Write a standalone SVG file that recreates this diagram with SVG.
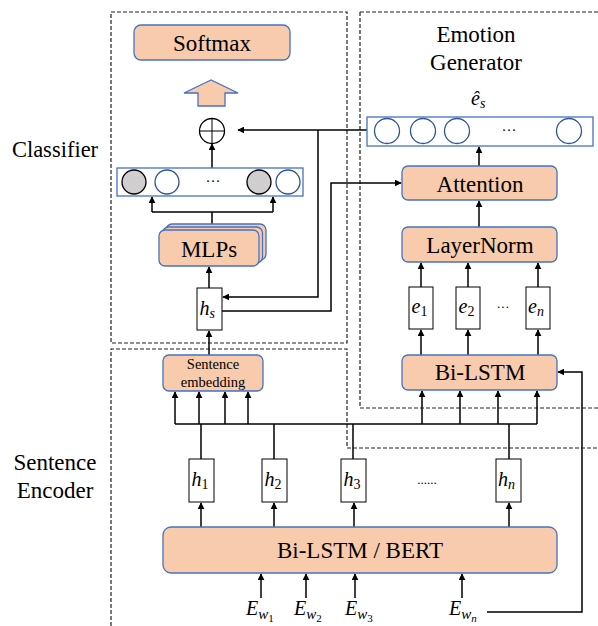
<svg xmlns="http://www.w3.org/2000/svg" width="598" height="626" viewBox="0 0 598 626" font-family="Liberation Serif, serif">
<style>
.box{fill:#F8CBAD;stroke:#4472C4;stroke-width:1.3}
.frame{fill:none;stroke:#222;stroke-width:1.2;stroke-dasharray:4 2}
.row{fill:#fff;stroke:#4472C4;stroke-width:1.3}
.wc{fill:#fff;stroke:#2F5597;stroke-width:1.3}
.gc{fill:#D0CECE;stroke:#000;stroke-width:1.3}
.vb{fill:#fff;stroke:#000;stroke-width:1}
.ln{fill:none;stroke:#000;stroke-width:1.5}
.ar{fill:none;stroke:#000;stroke-width:1.5;marker-end:url(#ah)}
.t{text-anchor:middle}
.m{font-style:italic}
.up{font-style:normal}
</style>
<defs>
<marker id="ah" viewBox="0 0 10 10" refX="9" refY="5" markerWidth="7" markerHeight="7" markerUnits="userSpaceOnUse" orient="auto">
<path d="M0,0 L10,5 L0,10 z" fill="#000"/>
</marker>
</defs>

<g id="frames">
<rect class="frame" x="111" y="12" width="236" height="331"/>
<path class="frame" d="M360,12 H600 M360,12 V408 H600"/>
<path class="frame" d="M111,626 V349 H347 V448 H600"/>
</g>

<g id="labels">
<text class="t" x="55" y="157" font-size="22.5" font-family="Liberation Serif, serif">Classifier</text>
<text class="t" x="55" y="470" font-size="23" font-family="Liberation Serif, serif">Sentence</text>
<text class="t" x="55" y="498" font-size="23" font-family="Liberation Serif, serif">Encoder</text>
<text class="t" x="476" y="42" font-size="23" font-family="Liberation Serif, serif">Emotion</text>
<text class="t" x="476" y="70" font-size="23" font-family="Liberation Serif, serif">Generator</text>
</g>

<g id="connectors">
<path class="ar" d="M367,130 H238"/>
<path class="ar" d="M318,130 V297 H223"/>
<path class="ar" d="M222,311 H331 V183 H401"/>
<path class="ar" d="M212,168 V144"/>
<path class="ln" d="M212,230 V212 M152,212 H273"/>
<path class="ar" d="M152,212 V197"/>
<path class="ar" d="M273,212 V197"/>
<path class="ar" d="M209,288 V267"/>
<path class="ar" d="M209,355 V331"/>
<path class="ln" d="M175,424 H537"/>
<path class="ar" d="M175,424 V392"/>
<path class="ar" d="M199,424 V392"/>
<path class="ar" d="M225,424 V392"/>
<path class="ar" d="M248,424 V392"/>
<path class="ln" d="M201,459 V424 M274,459 V424 M353,459 V424 M509,459 V424"/>
<path class="ar" d="M422,424 V391"/>
<path class="ar" d="M460,424 V391"/>
<path class="ar" d="M498,424 V391"/>
<path class="ar" d="M537,424 V391"/>
<path class="ar" d="M201,527 V503"/>
<path class="ar" d="M274,527 V503"/>
<path class="ar" d="M354,527 V503"/>
<path class="ar" d="M509,527 V503"/>
<path class="ar" d="M261,598 V574"/>
<path class="ar" d="M306,598 V574"/>
<path class="ar" d="M355,598 V574"/>
<path class="ar" d="M462,598 V574"/>
<path class="ar" d="M487,612 H582 V372 H558"/>
<path class="ar" d="M421,355 V330"/>
<path class="ar" d="M468,355 V330"/>
<path class="ar" d="M538,355 V330"/>
<path class="ar" d="M421,287 V263"/>
<path class="ar" d="M468,287 V263"/>
<path class="ar" d="M538,287 V263"/>
<path class="ar" d="M479,227 V201"/>
<path class="ar" d="M479,166 V147"/>
</g>

<g id="softmax">
<rect class="box" x="134" y="25" width="156" height="35" rx="7"/>
<text class="t" x="212" y="51" font-size="23" font-family="Liberation Serif, serif">Softmax</text>
</g>

<g id="up-arrow">
<path class="box" d="M211,80 L184,93 H198 V106 H225 V93 H238 Z"/>
</g>

<g id="oplus">
<circle cx="212" cy="131" r="12.5" fill="#fff" stroke="#000" stroke-width="1.3"/>
<path d="M199.5,131 H224.5 M212,118.5 V143.5" stroke="#000" stroke-width="1"/>
</g>

<g id="classifier-vector">
<rect class="row" x="117" y="168" width="186" height="28"/>
<circle class="gc" cx="134" cy="182" r="12"/>
<circle class="wc" cx="167" cy="182" r="12"/>
<text class="t" x="213" y="186" font-size="15" font-family="Liberation Serif, serif">···</text>
<circle class="gc" cx="259" cy="182" r="12"/>
<circle class="wc" cx="288" cy="182" r="12"/>
</g>

<g id="mlps">
<rect class="box" x="166" y="224" width="100" height="36" rx="6"/>
<rect class="box" x="162.5" y="227" width="100" height="36" rx="6"/>
<rect class="box" x="159" y="230" width="100" height="36" rx="6"/>
<text class="t" x="209" y="257" font-size="23" font-family="Liberation Serif, serif">MLPs</text>
</g>

<g id="hs">
<rect class="vb" x="197" y="288" width="25" height="42"/>
<text class="m" x="199.5" y="315" font-size="20" font-family="Liberation Serif, serif">h<tspan font-size="14" dy="3">s</tspan></text>
</g>

<g id="sentence-embedding">
<rect class="box" x="163" y="355" width="100" height="36" rx="6"/>
<text class="t" x="213" y="369" font-size="14.5" font-family="Liberation Serif, serif">Sentence</text>
<text class="t" x="213" y="387" font-size="14.5" font-family="Liberation Serif, serif">embedding</text>
</g>

<g id="h1"><rect class="vb" x="189" y="459" width="25" height="43"/><text class="m" x="191.5" y="486" font-size="20" font-family="Liberation Serif, serif">h<tspan class="up" font-size="14" dy="3">1</tspan></text></g>
<g id="h2"><rect class="vb" x="262" y="459" width="25" height="43"/><text class="m" x="264.5" y="486" font-size="20" font-family="Liberation Serif, serif">h<tspan class="up" font-size="14" dy="3">2</tspan></text></g>
<g id="h3"><rect class="vb" x="341" y="459" width="25" height="43"/><text class="m" x="343.5" y="486" font-size="20" font-family="Liberation Serif, serif">h<tspan class="up" font-size="14" dy="3">3</tspan></text></g>
<text class="t" x="427" y="484" font-size="13" font-family="Liberation Serif, serif">......</text>
<g id="hn"><rect class="vb" x="496" y="459" width="25" height="43"/><text class="m" x="498" y="486" font-size="20" font-family="Liberation Serif, serif">h<tspan font-size="14" dy="3">n</tspan></text></g>

<g id="bilstm-bert">
<rect class="box" x="163" y="527" width="394" height="46" rx="8"/>
<text class="t" x="360" y="558" font-size="23" font-family="Liberation Serif, serif">Bi-LSTM / BERT</text>
</g>

<g id="inputs">
<text class="m" x="246" y="615" font-size="20" font-family="Liberation Serif, serif">E<tspan font-size="15" dy="4">w</tspan><tspan class="up" font-size="11" dy="3">1</tspan></text>
<text class="m" x="294" y="615" font-size="20" font-family="Liberation Serif, serif">E<tspan font-size="15" dy="4">w</tspan><tspan class="up" font-size="11" dy="3">2</tspan></text>
<text class="m" x="345" y="615" font-size="20" font-family="Liberation Serif, serif">E<tspan font-size="15" dy="4">w</tspan><tspan class="up" font-size="11" dy="3">3</tspan></text>
<text class="m" x="449" y="615" font-size="20" font-family="Liberation Serif, serif">E<tspan font-size="15" dy="4">w</tspan><tspan font-size="11" dy="3">n</tspan></text>
</g>

<g id="es-hat">
<text class="m" x="471" y="105" font-size="20" font-family="Liberation Serif, serif">ê<tspan font-size="14" dy="3">s</tspan></text>
<rect class="row" x="367" y="117" width="226" height="29"/>
<circle class="wc" cx="387" cy="131" r="12.5"/>
<circle class="wc" cx="423" cy="131" r="12.5"/>
<circle class="wc" cx="457" cy="131" r="12.5"/>
<text class="t" x="509" y="135" font-size="15" font-family="Liberation Serif, serif">···</text>
<circle class="wc" cx="569" cy="131" r="12.5"/>
</g>

<g id="attention">
<rect class="box" x="402" y="166" width="155" height="34" rx="6"/>
<text class="t" x="480" y="192" font-size="23" font-family="Liberation Serif, serif">Attention</text>
</g>

<g id="layernorm">
<rect class="box" x="402" y="227" width="155" height="35" rx="6"/>
<text class="t" x="480" y="253" font-size="23" font-family="Liberation Serif, serif">LayerNorm</text>
</g>

<g id="e1"><rect class="vb" x="409" y="287" width="24" height="42"/><text class="m" x="411.5" y="313" font-size="20" font-family="Liberation Serif, serif">e<tspan class="up" font-size="14" dy="3">1</tspan></text></g>
<g id="e2"><rect class="vb" x="456" y="287" width="24" height="42"/><text class="m" x="458.5" y="313" font-size="20" font-family="Liberation Serif, serif">e<tspan class="up" font-size="14" dy="3">2</tspan></text></g>
<text class="t" x="503" y="311" font-size="13" font-family="Liberation Serif, serif">···</text>
<g id="en"><rect class="vb" x="526" y="287" width="24" height="42"/><text class="m" x="528" y="313" font-size="20" font-family="Liberation Serif, serif">e<tspan font-size="14" dy="3">n</tspan></text></g>

<g id="bilstm">
<rect class="box" x="402" y="355" width="155" height="35" rx="6"/>
<text class="t" x="480" y="380" font-size="23" font-family="Liberation Serif, serif">Bi-LSTM</text>
</g>
</svg>
